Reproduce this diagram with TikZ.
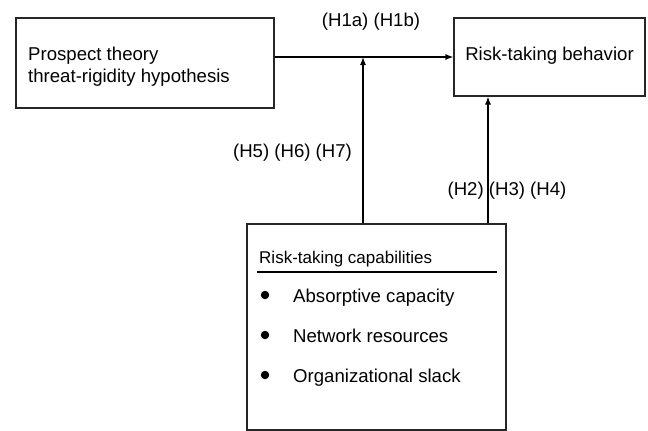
\documentclass[tikz,border=0pt]{standalone}
\usepackage{fontspec}
\setmainfont{Liberation Sans}
\usetikzlibrary{arrows.meta}
\begin{document}
\begin{tikzpicture}[x=1pt,y=-1pt,
  box/.style={draw=black!85,line width=1.1pt,rectangle,inner sep=0pt},
  txt/.style={font=\fontsize{18.6}{22}\selectfont,inner sep=0pt},
  small/.style={font=\fontsize{17}{20}\selectfont,inner sep=0pt},
  arr/.style={line width=1.2pt,-{Latex[length=8pt,width=6pt]}},
  dot/.style={circle,fill=black,inner sep=0pt,minimum size=8.5pt}]
\useasboundingbox (0,0) rectangle (648,431);
% boxes
\node[box,minimum width=258pt,minimum height=90pt] (b1) at (145,63) {};
\node[txt,anchor=base west] (t1a) at (28,60) {Prospect theory};
\node[txt,anchor=base west] (t1b) at (28,82) {threat-rigidity hypothesis};
\node[box,minimum width=191pt,minimum height=78pt] (b2) at (549.5,57) {};
\node[txt,anchor=base] (t2) at (549.5,60) {Risk-taking behavior};
\node[box,minimum width=259pt,minimum height=206pt] (b3) at (376.5,327) {};
% box 3 content
\node[small,anchor=base west] (cap) at (259,263) {Risk-taking capabilities};
\coordinate (r1) at (257,272);
\coordinate (r2) at (497,272);
\draw[line width=2.6pt] (r1) -- (r2);
\node[dot] (d1) at (265,295) {};
\node[dot] (d2) at (265,335) {};
\node[dot] (d3) at (265,375) {};
\node[txt,anchor=base west] (i1) at (293,302) {Absorptive capacity};
\node[txt,anchor=base west] (i2) at (293,342) {Network resources};
\node[txt,anchor=base west] (i3) at (293,382) {Organizational slack};
% connectors
\coordinate (m) at (363,57);
\coordinate (c) at (488,0);
\draw[arr] (b1.east |- b2.west) -- (b2.west);
\draw[arr] (b3.north -| m) -- (m);
\draw[arr] (b3.north -| c) -- (b2.south -| c);
% labels
\node[txt,anchor=base] (h1) at (371,26) {(H1a) (H1b)};
\node[txt,anchor=base] (h5) at (292.5,157) {(H5) (H6) (H7)};
\node[txt,anchor=base] (h2) at (507,195) {(H2) (H3) (H4)};
\end{tikzpicture}
\end{document}
